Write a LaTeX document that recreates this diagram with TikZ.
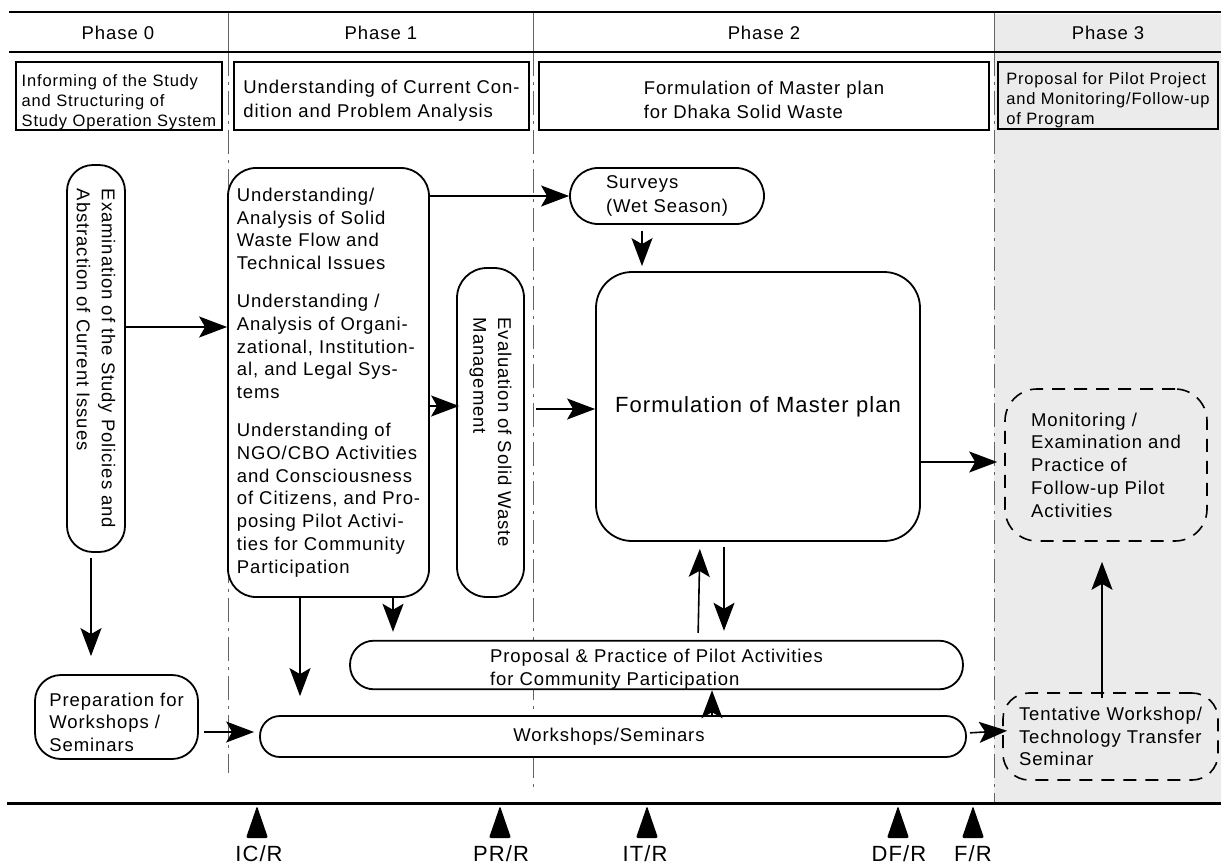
\documentclass[tikz,border=0pt]{standalone}
\usepackage{fontspec}
\setmainfont{Liberation Sans}[LetterSpace=5]
\usetikzlibrary{arrows.meta}

\definecolor{phasegray}{RGB}{235,235,235}
\definecolor{divgray}{RGB}{100,100,100}

\newcommand\txtmain{\fontsize{18.5}{22.8}\selectfont}
\newcommand\txtsmall{\fontsize{16.5}{20}\selectfont}
\newcommand\txtbig{\fontsize{22}{26}\selectfont}
\newcommand\txtlabel{\fontsize{22}{26}\selectfont}

\tikzset{
  proc/.style={draw, line width=1.8pt, inner sep=0pt, font=\txtmain},
  hdrbox/.style={draw, line width=1.8pt, inner sep=0pt, align=left},
  dashedline/.style={dash pattern=on 13pt off 9pt, line width=1.6pt},
  divider/.style={divgray, line width=0.9pt, dash pattern=on 24pt off 6pt on 3pt off 6pt},
  arr/.style={line width=1.6pt, -{Stealth[length=28pt,width=21pt,inset=6pt]}},
  marker/.style={fill=black, rounded corners=2pt},
}

\begin{document}
\begin{tikzpicture}[x=1pt, y=-1pt]
\useasboundingbox (0,0) rectangle (1221,865);
\fill[white] (0,0) rectangle (1221,865);

% shaded band of the last phase
\fill[phasegray] (994,14) rectangle (1221,803);

% phase dividers
\draw[divgray, line width=0.9pt] (228,12) -- (228,52) (533,12) -- (533,52) (994,12) -- (994,52);
\draw[divider] (228,52) -- (228,773);
\draw[divider] (533,52) -- (533,788);
\draw[divider] (994,52) -- (994,803);

% horizontal rules
\draw[line width=2.6pt] (9,12) -- (1221,12);
\draw[line width=2.2pt] (9,52) -- (1221,52);
\draw[line width=2.4pt] (7,803.5) -- (1221,803.5);

% phase titles
\node[font=\txtmain] (p0) at (118,33) {Phase 0};
\node[font=\txtmain] (p1) at (381,33) {Phase 1};
\node[font=\txtmain] (p2) at (764,33) {Phase 2};
\node[font=\txtmain] (p3) at (1108,33) {Phase 3};

% phase summary boxes
\node[hdrbox, fill=white, minimum width=206pt, minimum height=68pt, font=\txtsmall] (h0) at (119,96)
  {\rule{0pt}{24pt}Informing of the Study\\and Structuring of\\Study Operation System};
\node[hdrbox, fill=white, minimum width=295pt, minimum height=68pt, font=\fontsize{18.5}{24}\selectfont] (h1) at (381.5,96)
  {\rule{0pt}{22pt}Understanding of Current Con-\\dition and Problem Analysis};
\node[hdrbox, fill=white, minimum width=450pt, minimum height=68pt, font=\fontsize{18.5}{24}\selectfont] (h2) at (764,96)
  {\rule{0pt}{22pt}Formulation of Master plan\\for Dhaka Solid Waste};
\node[hdrbox, fill=phasegray, minimum width=220pt, minimum height=67pt, font=\txtsmall] (h3) at (1108,95.5)
  {\rule{0pt}{22pt}Proposal for Pilot Project\\and Monitoring/Follow-up\\of Program};

% activities
\node[proc, fill=white, rotate=-90, rounded corners=26pt, minimum width=387pt, minimum height=58pt, align=left] (exam) at (96,358.5)
  {Examination of the Study Policies and\\[2pt]Abstraction of Current Issues};

\node[proc, fill=white, rounded corners=28pt, minimum width=201pt, minimum height=429pt, align=left] (study) at (328.5,382.5)
  {Understanding/\\Analysis of Solid\\Waste Flow and\\Technical Issues\\[15pt]
   Understanding /\\Analysis of Organi-\\zational, Institution-\\al, and Legal Sys-\\tems\\[15pt]
   Understanding of\\NGO/CBO Activities\\and Consciousness\\of Citizens, and Pro-\\posing Pilot Activi-\\ties for Community\\Participation};

\node[proc, fill=white, rotate=-90, rounded corners=30pt, minimum width=329pt, minimum height=67pt, align=left] (eval) at (490.5,432.5)
  {Evaluation of Solid Waste\\[2pt]Management};

\node[proc, fill=white, rounded corners=28pt, minimum width=194pt, minimum height=56pt, align=left] (surveys) at (667,196)
  {Surveys\\[2pt](Wet Season)};

\node[proc, fill=white, rounded corners=36pt, minimum width=324pt, minimum height=269pt, font=\txtbig] (form) at (758,406.5)
  {Formulation of Master plan};

\node[proc, dashedline, rounded corners=32pt, minimum width=202pt, minimum height=152pt, align=left] (monitor) at (1106,465)
  {Monitoring /\\Examination and\\Practice of\\Follow-up Pilot\\Activities};

\node[proc, dashedline, rounded corners=26pt, minimum width=215pt, minimum height=87pt, align=left] (tent) at (1110.5,736.5)
  {Tentative Workshop/\\Technology Transfer\\Seminar};

\node[proc, fill=white, rounded corners=24pt, minimum width=613pt, minimum height=48pt, align=left] (prop) at (656.5,665)
  {\rule{0pt}{22pt}Proposal \& Practice of Pilot Activities\\for Community Participation\hspace*{12pt}};

\node[proc, fill=white, rounded corners=20pt, minimum width=706pt, minimum height=41pt] (wshop) at (613,736.5)
  {\hspace*{-8pt}Workshops/Seminars};

\node[proc, fill=white, rounded corners=26pt, minimum width=163pt, minimum height=84pt, align=left] (prep) at (116.5,717)
  {\rule{0pt}{24pt}Preparation for\\Workshops /\\Seminars};

% connectors
\draw[arr] (exam.north |- 0,327) -- (study.west |- 0,327);
\draw[arr, shorten <=5pt, shorten >=18pt] (exam.east -| 91,0) -- (prep.north -| 91,0);
\draw[arr] (study.east |- surveys.west) -- (surveys.west);
\draw[arr, shorten <=6pt, shorten >=5pt] (surveys.south -| 642,0) -- (form.north -| 642,0);
\draw[arr, shorten >=-3pt] (study.east |- 0,406) -- (eval.south |- 0,406);
\draw[arr, shorten <=11pt] (eval.north |- 0,409) -- (form.west |- 0,409);
\draw[arr, shorten >=7pt] (form.east |- 0,462) -- (monitor.west |- 0,462);
\draw[arr, shorten >=19pt] (study.south -| 300,0) -- (wshop.north -| 300,0);
\draw[arr, shorten >=8pt] (study.south -| 393,0) -- (prop.north -| 393,0);
\draw[arr, shorten <=7pt, shorten >=7pt] (prop.north -| 698,0) -- (form.south -| 700,0);
\draw[arr, shorten <=5pt, shorten >=9pt] (form.south -| 724,0) -- (prop.north -| 724,0);
\draw[arr, shorten <=-2pt] (wshop.north -| 712,0) -- (prop.south -| 712,0);
\draw[arr, shorten <=5pt, shorten >=5pt] (prep.east |- 0,732) -- (wshop.west |- 0,732);
\draw[arr, shorten <=3pt, shorten >=-5pt] (wshop.east |- 0,733) -- (tent.west |- 0,731);
\draw[arr, shorten <=-6pt, shorten >=20pt] (tent.north -| 1102,0) -- (monitor.south -| 1102,0);

% report milestones
\coordinate (mIC) at (257,806);
\coordinate (mPR) at (500,806);
\coordinate (mIT) at (647,806);
\coordinate (mDF) at (898,806);
\coordinate (mF)  at (973,806);
\foreach \m in {mIC,mPR,mIT,mDF,mF}
  \fill[marker] (\m) -- ++(11,32) -- ++(-22,0) -- cycle;

\node[font=\txtlabel, anchor=base] (lIC) at (259,861) {IC/R};
\node[font=\txtlabel, anchor=base] (lPR) at (501,861) {PR/R};
\node[font=\txtlabel, anchor=base] (lIT) at (645,861) {IT/R};
\node[font=\txtlabel, anchor=base] (lDF) at (899,861) {DF/R};
\node[font=\txtlabel, anchor=base] (lF)  at (973,861) {F/R};
\end{tikzpicture}
\end{document}
